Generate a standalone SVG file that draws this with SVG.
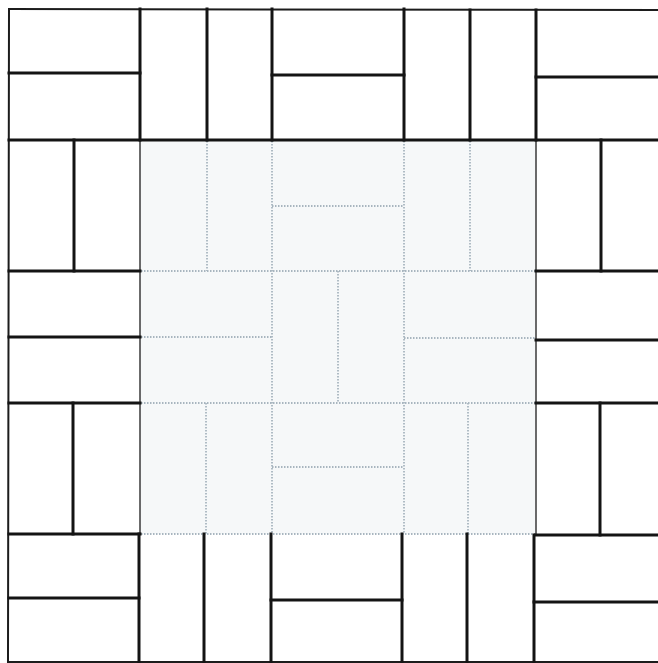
<svg xmlns="http://www.w3.org/2000/svg" width="658" height="663" viewBox="0 0 658 663">
  <style>
    .k { stroke: #141414; stroke-width: 3; fill: none; stroke-linecap: square; }
    .b { stroke: #1c1c1c; stroke-width: 2; fill: none; stroke-linecap: square; }
    .g { stroke: #3a3a3a; stroke-width: 1.5; fill: none; }
    .d { stroke: #a8b5bf; stroke-width: 1.8; fill: none; stroke-dasharray: 1.5 1.5; }
  </style>
  <rect x="0" y="0" width="658" height="663" fill="#ffffff"/>

  <g id="inner-field">
    <rect x="140" y="140" width="396" height="394" fill="#f6f8f9"/>
    <!-- inner grid (dotted) -->
    <line class="d" x1="272" y1="141" x2="272" y2="534"/>
    <line class="d" x1="404" y1="141" x2="404" y2="534"/>
    <line class="d" x1="141" y1="271" x2="535" y2="271"/>
    <line class="d" x1="141" y1="403" x2="535" y2="403"/>
    <line class="d" x1="141" y1="534" x2="535" y2="534"/>
    <!-- inner splits -->
    <line class="d" x1="207" y1="141" x2="207" y2="271"/>
    <line class="d" x1="272" y1="206" x2="404" y2="206"/>
    <line class="d" x1="470" y1="141" x2="470" y2="271"/>
    <line class="d" x1="141" y1="337" x2="272" y2="337"/>
    <line class="d" x1="338" y1="271" x2="338" y2="403"/>
    <line class="d" x1="404" y1="338" x2="535" y2="338"/>
    <line class="d" x1="206" y1="403" x2="206" y2="534"/>
    <line class="d" x1="272" y1="467" x2="404" y2="467"/>
    <line class="d" x1="468" y1="403" x2="468" y2="534"/>
    <!-- side boundaries -->
    <line class="g" x1="140" y1="140" x2="140" y2="534"/>
    <line class="g" x1="536" y1="140" x2="536" y2="534"/>
  </g>

  <g id="outer-ring">
    <!-- outer border -->
    <line class="b" x1="9" y1="9" x2="658" y2="10"/>
    <line class="b" x1="9" y1="9" x2="8" y2="662"/>
    <line class="b" x1="8" y1="662" x2="658" y2="662"/>
    <!-- row separators -->
    <line class="k" x1="9" y1="140" x2="658" y2="140"/>
    <line class="k" x1="9" y1="271" x2="140" y2="271"/>
    <line class="k" x1="536" y1="271" x2="658" y2="271"/>
    <line class="k" x1="9" y1="403" x2="140" y2="403"/>
    <line class="k" x1="536" y1="403" x2="658" y2="403"/>
    <line class="k" x1="9" y1="534" x2="140" y2="534"/>
    <line class="k" x1="536" y1="535" x2="658" y2="535"/>
    <!-- column separators in top/bottom rows -->
    <line class="k" x1="140" y1="9" x2="140" y2="140"/>
    <line class="k" x1="272" y1="9" x2="272" y2="140"/>
    <line class="k" x1="404" y1="9" x2="404" y2="140"/>
    <line class="k" x1="536" y1="10" x2="536" y2="140"/>
    <line class="k" x1="139" y1="534" x2="139" y2="662"/>
    <line class="k" x1="271" y1="534" x2="271" y2="662"/>
    <line class="k" x1="402" y1="534" x2="402" y2="662"/>
    <line class="k" x1="534" y1="535" x2="534" y2="662"/>
    <!-- brick splits -->
    <line class="k" x1="9" y1="73" x2="140" y2="73"/>
    <line class="k" x1="207" y1="9" x2="207" y2="140"/>
    <line class="k" x1="272" y1="75" x2="404" y2="75"/>
    <line class="k" x1="470" y1="10" x2="470" y2="140"/>
    <line class="k" x1="536" y1="77" x2="658" y2="77"/>
    <line class="k" x1="74" y1="140" x2="74" y2="271"/>
    <line class="k" x1="601" y1="140" x2="601" y2="271"/>
    <line class="k" x1="9" y1="337" x2="140" y2="337"/>
    <line class="k" x1="536" y1="340" x2="658" y2="340"/>
    <line class="k" x1="73" y1="403" x2="73" y2="534"/>
    <line class="k" x1="600" y1="403" x2="600" y2="535"/>
    <line class="k" x1="9" y1="598" x2="139" y2="598"/>
    <line class="k" x1="204" y1="534" x2="204" y2="662"/>
    <line class="k" x1="271" y1="600" x2="402" y2="600"/>
    <line class="k" x1="467" y1="534" x2="467" y2="662"/>
    <line class="k" x1="534" y1="602" x2="658" y2="602"/>
  </g>
</svg>
